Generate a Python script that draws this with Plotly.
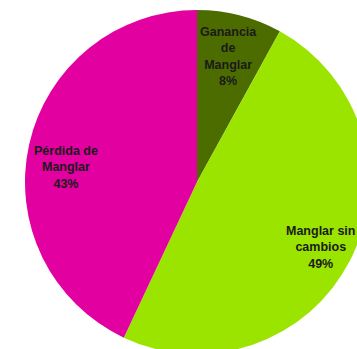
import plotly.graph_objects as go

labels = ["Ganancia de Manglar", "Manglar sin cambios", "Pérdida de Manglar"]
text_labels = ["Ganancia<br>de<br>Manglar", "Manglar sin<br>cambios", "Pérdida de<br>Manglar"]
values = [8, 49, 43]
colors = ["#4C6C00", "#9BE400", "#E200A0"]

# label anchor positions (paper coords within the pie domain)
label_pos = [(0.593, 0.866), (0.858, 0.311), (0.119, 0.541)]

fig = go.Figure(go.Pie(
    labels=labels,
    values=values,
    textinfo="none",
    sort=False,
    direction="clockwise",
    rotation=0,
    marker=dict(colors=colors, line=dict(width=0)),
    showlegend=False,
    hoverinfo="label+percent",
))

for t, v, (x, y) in zip(text_labels, values, label_pos):
    fig.add_annotation(
        x=x, y=y, xref="paper", yref="paper",
        text=f"<b>{t}<br>{v}%</b>",
        showarrow=False, align="center",
        xanchor="center", yanchor="middle",
        font=dict(family="Liberation Sans, Arial", size=12.5, color="#1a1a1a"),
    )

fig.update_layout(
    width=369, height=354,
    margin=dict(l=25, r=0, t=10, b=0),
    paper_bgcolor="white",
    plot_bgcolor="white",
)

fig.write_html("out.html")
